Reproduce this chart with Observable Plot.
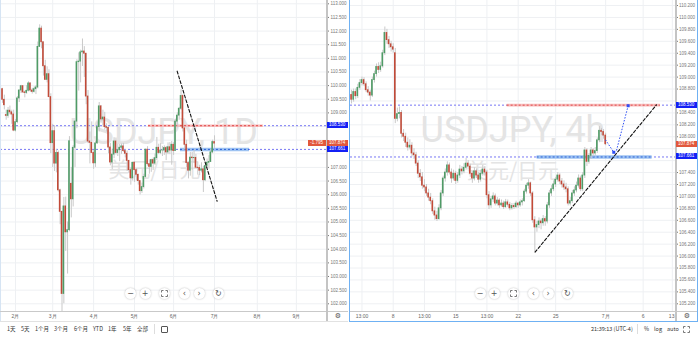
<!DOCTYPE html>
<html><head><meta charset="utf-8">
<script src="https://cdn.jsdelivr.net/npm/d3@7"></script>
<script src="https://cdn.jsdelivr.net/npm/@observablehq/plot@0.6"></script>
<style>
body{margin:0;background:#fff;}
#root{position:relative;width:698px;height:337px;overflow:hidden;background:#fff;font-family:"Liberation Sans",Arial,sans-serif;}
.abs{position:absolute;}
.btn{position:absolute;width:11px;height:11px;border-radius:50%;background:#fff;box-shadow:0 0 2px rgba(0,0,0,0.28);font-family:"DejaVu Sans",sans-serif;font-size:8px;line-height:11px;text-align:center;color:#555;}
.tb{position:absolute;top:325px;font-size:5.5px;line-height:8px;color:#333;white-space:nowrap;font-family:"Noto Sans CJK SC","Liberation Sans",sans-serif;}
.box{position:absolute;height:6px;line-height:6px;font-size:4.5px;color:#fff;text-align:center;font-family:"Liberation Sans",Arial,sans-serif;overflow:hidden;white-space:nowrap;}
</style></head><body><div id="root"></div><script>
// ---------- data ----------
// Daily USDJPY candles [open, high, low, close]; index 0 = first trading day of Feb (2月)
const dailyStart = -9;
const daily = [
[110.17,110.20,109.76,109.86],[109.86,110.00,109.71,109.87],[109.87,109.90,109.35,109.48],[109.48,109.65,109.11,109.28],
[108.92,109.10,108.73,108.89],[108.89,109.20,108.80,109.08],[109.08,109.25,108.93,109.02],[109.02,109.10,108.58,108.94],[108.94,109.10,108.31,108.35],
[108.35,108.76,108.30,108.66],[108.66,109.60,108.60,109.53],[109.53,109.85,109.38,109.82],[109.82,110.01,109.71,109.98],[109.98,110.00,109.72,109.75],
[109.75,109.80,109.55,109.73],[109.73,110.00,109.68,109.81],[109.81,110.14,109.77,110.08],[110.08,110.10,109.75,109.82],[109.82,109.90,109.69,109.77],
[109.77,109.95,109.73,109.87],[109.87,110.00,109.67,109.93],[109.93,111.60,109.88,111.42],[111.42,112.23,111.40,112.09],[112.09,112.18,111.35,111.59],
[111.59,111.60,110.35,110.71],[110.71,110.93,110.19,110.21],[110.21,110.69,110.10,110.42],[110.42,110.58,109.55,109.58],[109.58,109.70,107.51,107.89],
[107.89,108.58,107.00,108.33],[108.33,108.53,106.85,107.14],[107.14,107.66,106.80,107.53],[107.53,107.60,106.10,106.16],[106.16,106.20,104.90,105.37],
[105.37,105.40,101.18,102.36],[102.36,105.90,102.00,105.57],[105.57,105.91,103.92,104.62],[104.62,105.00,103.09,104.70],[104.70,108.13,104.64,107.96],
[106.40,107.00,105.15,105.83],[105.83,107.80,105.55,107.72],[107.72,108.70,107.00,108.68],[108.68,110.95,108.42,110.86],[110.86,111.20,109.80,110.88],
[110.88,111.30,110.10,111.22],[111.22,111.71,110.70,111.25],[111.25,111.43,110.30,111.17],[111.17,111.18,109.30,109.60],[109.60,109.82,107.87,107.95],
[107.95,108.30,107.13,107.90],[107.90,108.67,107.55,107.53],
[107.53,107.61,106.93,107.15],[107.15,107.96,107.00,107.88],[107.88,108.67,107.85,108.48],[108.48,109.38,108.30,109.24],[109.24,109.27,108.62,108.76],
[108.76,109.10,108.52,108.83],[108.83,109.02,108.37,108.48],[108.48,108.60,108.30,108.45],[108.45,108.50,107.50,107.73],[107.73,107.88,107.06,107.18],
[107.18,107.67,106.92,107.47],[107.47,108.09,107.32,107.95],[107.95,108.08,107.46,107.53],[107.53,107.85,107.40,107.63],[107.63,107.84,107.21,107.72],
[107.72,107.86,107.48,107.77],[107.77,107.88,107.55,107.60],[107.60,107.65,107.35,107.50],[107.50,107.60,106.85,107.24],[107.24,107.26,106.78,106.90],
[106.90,106.98,106.35,106.60],[106.60,107.18,106.50,107.17],
[107.17,107.21,106.45,106.90],[106.90,106.95,106.50,106.73],[106.73,106.75,106.35,106.50],[106.50,106.50,105.99,106.13],[106.13,106.43,106.05,106.28],
[106.28,106.75,106.21,106.65],[106.65,107.67,106.60,107.65],[107.65,107.76,107.05,107.12],[107.12,107.28,106.75,107.02],[107.02,107.30,106.82,107.27],
[107.27,107.34,106.89,107.14],[107.14,107.49,107.07,107.34],[107.34,108.10,107.25,107.72],[107.72,107.85,107.47,107.53],[107.53,107.87,107.47,107.62],
[107.62,107.77,107.40,107.62],[107.62,107.79,107.44,107.71],[107.71,107.77,107.25,107.55],[107.55,107.90,107.47,107.74],[107.74,107.91,107.47,107.62],
[107.62,107.95,107.08,107.83],
[107.83,107.91,107.44,107.60],[107.60,108.77,107.58,108.68],[108.68,109.00,108.45,108.90],[108.90,109.20,108.73,109.15],[109.15,109.85,109.10,109.62],
[109.62,109.67,108.30,108.43],[108.43,108.48,107.63,107.83],[107.83,108.00,106.99,107.16],[107.16,107.20,106.58,106.88],[106.88,107.55,106.68,107.36],
[107.36,107.55,106.90,107.34],[107.34,107.64,107.14,107.35],[107.35,107.48,106.97,106.99],[106.99,107.20,106.72,106.98],[106.98,107.08,106.70,106.88],
[106.88,107.17,106.80,106.93],[106.93,107.04,106.08,106.53],[106.53,107.08,106.48,107.05],[107.05,107.31,106.96,107.17],[107.17,107.43,106.94,107.20],
[107.20,107.66,107.18,107.55],[107.55,108.00,107.50,107.93],
[107.93,108.16,107.70,107.874]
];
const monthTicks = [0, 20, 42, 64, 85, 107, 130, 151];
const monthLabels = ["2月","3月","4月","5月","6月","7月","8月","9月"];
const leftTicks = [102,102.5,103,103.5,104,104.5,105,105.5,106,106.5,107,107.5,108,108.5,109,109.5,110,110.5,111,111.5,112,112.5,113];

// 4h USDJPY candles [open, high, low, close]; index 0 = bar at the "8" label
const h4Start = -20;
const h4 = [
[108.70,108.78,108.55,108.62],[108.62,108.80,108.58,108.75],[108.75,108.80,108.62,108.68],[108.68,108.88,108.64,108.82],[108.82,108.96,108.78,108.90],
[108.90,109.00,108.85,108.95],[108.95,108.99,108.84,108.88],[108.88,108.92,108.74,108.78],[108.78,108.84,108.68,108.74],[108.74,108.78,108.60,108.69],
[108.69,109.00,108.66,108.95],[108.95,109.10,108.90,109.05],[109.05,109.22,109.00,109.17],[109.17,109.24,109.06,109.12],[109.12,109.25,109.08,109.18],
[109.18,109.45,109.15,109.40],[109.40,109.84,109.36,109.74],[109.74,109.80,109.55,109.62],[109.62,109.68,109.48,109.55],[109.55,109.60,109.42,109.50],
[109.50,109.56,109.40,109.46],[109.40,109.48,108.22,108.30],[108.30,108.48,108.25,108.38],[108.38,108.50,108.30,108.40],[108.40,108.44,107.98,108.05],
[108.05,108.12,107.92,108.00],[108.00,108.06,107.82,107.90],[107.90,107.98,107.76,107.82],[107.82,107.95,107.78,107.85],[107.85,107.90,107.66,107.72],
[107.72,107.80,107.62,107.69],[107.69,107.74,107.50,107.55],[107.55,107.60,107.30,107.38],[107.38,107.45,107.25,107.32],[107.32,107.40,107.12,107.18],
[107.18,107.28,107.08,107.15],[107.15,107.20,107.00,107.05],[107.05,107.12,106.92,106.98],[106.98,107.05,106.86,106.92],[106.92,106.96,106.70,106.75],
[106.75,106.82,106.60,106.68],[106.68,106.75,106.58,106.62],[106.62,106.86,106.60,106.80],[106.80,107.10,106.76,107.05],[107.05,107.34,107.00,107.30],
[107.30,107.46,107.24,107.40],[107.40,107.58,107.34,107.52],[107.52,107.56,107.36,107.40],[107.40,107.46,107.22,107.30],[107.30,107.44,107.26,107.38],
[107.38,107.42,107.20,107.26],[107.26,107.40,107.22,107.35],[107.35,107.52,107.30,107.45],[107.45,107.50,107.36,107.42],[107.42,107.55,107.38,107.48],
[107.48,107.64,107.44,107.55],[107.55,107.60,107.44,107.50],[107.50,107.54,107.32,107.38],[107.38,107.42,107.22,107.30],[107.30,107.48,107.26,107.42],
[107.42,107.46,107.30,107.35],[107.35,107.40,107.22,107.28],[107.28,107.44,107.24,107.38],[107.38,107.52,107.34,107.45],[107.45,107.50,107.34,107.40],
[107.40,107.44,106.96,107.02],[107.02,107.08,106.78,106.85],[106.85,107.00,106.80,106.95],[106.95,107.06,106.90,107.00],[107.00,107.04,106.84,106.88],
[106.88,106.98,106.84,106.93],[106.93,106.96,106.80,106.85],[106.85,106.94,106.82,106.88],[106.88,106.92,106.78,106.82],[106.82,106.95,106.80,106.90],
[106.90,106.94,106.82,106.86],[106.86,106.90,106.76,106.80],[106.80,106.88,106.77,106.84],[106.84,106.88,106.78,106.82],[106.82,106.92,106.80,106.88],
[106.88,106.90,106.80,106.85],[106.85,106.94,106.82,106.90],[106.90,106.96,106.84,106.92],[106.92,107.12,106.90,107.08],[107.08,107.22,107.04,107.18],
[107.18,107.28,107.12,107.22],[107.22,107.24,107.00,107.05],[107.05,107.08,106.55,106.60],[106.60,106.66,106.06,106.48],[106.48,106.58,106.40,106.52],
[106.52,106.64,106.46,106.58],[106.58,106.62,106.44,106.55],[106.55,106.68,106.50,106.62],[106.62,106.66,106.50,106.58],[106.58,106.90,106.54,106.85],
[106.85,107.10,106.80,107.05],[107.05,107.18,107.00,107.12],[107.12,107.26,107.08,107.20],[107.20,107.32,107.15,107.28],[107.28,107.40,107.24,107.35],
[107.35,107.38,107.20,107.25],[107.25,107.30,107.14,107.20],[107.20,107.26,107.10,107.15],[107.15,107.22,107.06,107.12],[107.12,107.16,106.84,106.88],
[106.88,106.98,106.84,106.92],[106.92,107.10,106.88,107.05],[107.05,107.16,107.00,107.10],[107.10,107.24,107.06,107.18],[107.18,107.36,107.14,107.30],
[107.30,107.34,107.08,107.12],[107.12,107.40,107.08,107.35],[107.35,107.82,107.30,107.77],[107.77,107.80,107.50,107.58],[107.58,107.72,107.54,107.68],
[107.68,107.82,107.62,107.77],[107.77,107.80,107.66,107.72],[107.72,107.82,107.68,107.76],[107.76,107.98,107.72,107.94],[107.94,108.17,107.90,108.10],
[108.10,108.14,108.02,108.08],[108.08,108.12,107.96,108.02],[108.02,108.06,107.85,107.874]
];
const h4Ticks = [-15, 0, 15, 30, 45, 60, 78, 102, 120, 134];
const h4Labels = ["13:00","8","13:00","15","13:00","22","25","7月","6","13:"];
const rightTicks = [105.2,105.4,105.6,105.8,106,106.2,106.4,106.6,106.8,107,107.2,107.4,107.6,107.8,108,108.2,108.4,108.6,108.8,109,109.2,109.4,109.6,109.8,110,110.2];

// levels and drawings
const resistance = 108.530, support = 107.661, lastPrice = 107.874, dayChange = "-1.795";
const dPink = [71.5, 133.3], dBlue = [88.7, 125.8];
const dTrend = [[86.9, 110.53], [108.4, 105.76]];
const hPink = [54.7, 128.3], hBlue = [69.1, 124.3];
const hTrend = [[68.1, 106.065], [126.4, 108.535]];
const hArrows = [[101.9, 107.95, 105.9, 107.74], [107.2, 107.77, 112.8, 108.52]];

// ---------- drawing ----------
const GREEN = "#4f9b66", RED = "#c24a38", WICK = "#c9c9c9", GRID = "#eef0f3";
const root = document.getElementById("root");

function candles(data, start, half) {
  const rows = data.map((d, k) => ({i: start + k, o: d[0], h: d[1], l: d[2], c: d[3]}));
  return [
    Plot.ruleX(rows, {x: "i", y1: "l", y2: "h", stroke: WICK, strokeWidth: 1, clip: true}),
    Plot.rect(rows, {x1: d => d.i - half, x2: d => d.i + half, y1: d => Math.min(d.o, d.c), y2: d => Math.max(d.o, d.c),
      fill: d => d.c >= d.o ? GREEN : RED, insetTop: -0.4, insetBottom: -0.4, clip: true})
  ];
}
function levelMarks(pink, blue) {
  return [
    Plot.ruleY([resistance, support], {stroke: "#7777f4", strokeDasharray: "2,2", strokeWidth: 1}),
    Plot.ruleY([resistance], {x1: () => pink[0], x2: () => pink[1], stroke: "#f7bcbc", strokeWidth: 2.6}),
    Plot.ruleY([resistance], {x1: () => pink[0], x2: () => pink[1], stroke: "#e04a4a", strokeDasharray: "2,2", strokeWidth: 1}),
    Plot.ruleY([support], {x1: () => blue[0], x2: () => blue[1], stroke: "#9ec3f2", strokeWidth: 3.5}),
    Plot.ruleY([support], {x1: () => blue[0], x2: () => blue[1], stroke: "#2b5fd6", strokeDasharray: "2,2", strokeWidth: 1})
  ];
}
function watermark(l1, l2, dy1, dy2, dx2) {
  return [
    Plot.text([l1], {frameAnchor: "middle", dy: dy1, text: d => d, fontSize: 36, fontFamily: "Roboto", fill: "#e4e4e4"}),
    Plot.text([l2], {frameAnchor: "middle", dy: dy2, dx: dx2, text: d => d, fontSize: 21, fontFamily: "Noto Sans CJK SC", fill: "#e4e4e4"})
  ];
}
// axis tick labels that sit under a price-label box are hidden, as in the chart
function visibleTicks(ticks, pxPerUnit) {
  return ticks.filter(t => [resistance, support, lastPrice].every(v => Math.abs(t - v) * pxPerUnit > 4.5));
}

const left = Plot.plot({
  width: 348, height: 322, marginLeft: 0, marginRight: 22, marginTop: 0, marginBottom: 11,
  x: {type: "linear", domain: [-8.065, 167.204]},
  y: {domain: [101.717, 113.121]},
  color: {type: "identity"},
  style: {background: "transparent", fontFamily: "Liberation Sans, Arial, sans-serif"},
  marks: [
    Plot.gridY(leftTicks, {stroke: GRID, strokeOpacity: 1}),
    Plot.gridX(monthTicks, {stroke: GRID, strokeOpacity: 1}),
    ...watermark("USDJPY, 1D", "美元/日元", -23.5, 14.5, -9),
    ...levelMarks(dPink, dBlue),
    ...candles(daily, dailyStart, 0.42),
    Plot.line(dTrend, {x: d => d[0], y: d => d[1], stroke: "#111", strokeDasharray: "3,2", strokeWidth: 1.1}),
    Plot.axisY(visibleTicks(leftTicks, 27.27), {anchor: "right", tickSize: 2, tickPadding: 2, fontSize: 4.5, tickFormat: d => d.toFixed(3), color: "#777", label: null}),
    Plot.axisX(monthTicks, {anchor: "bottom", tickSize: 0, tickPadding: 3, fontSize: 5, tickFormat: d => monthLabels[monthTicks.indexOf(d)], color: "#666", label: null})
  ]
});
left.style.position = "absolute"; left.style.left = "0px"; left.style.top = "0px";
root.appendChild(left);

const right = Plot.plot({
  width: 347, height: 322, marginLeft: 0, marginRight: 22, marginTop: 0, marginBottom: 11,
  x: {type: "linear", domain: [-20.50, 135.53]},
  y: {domain: [105.071, 110.284]},
  color: {type: "identity"},
  style: {background: "transparent", fontFamily: "Liberation Sans, Arial, sans-serif"},
  marks: [
    Plot.gridY(rightTicks, {stroke: GRID, strokeOpacity: 1}),
    Plot.gridX(h4Ticks, {stroke: GRID, strokeOpacity: 1}),
    ...watermark("USDJPY, 4h", "美元/日元", -25.5, 15.5, 0),
    ...levelMarks(hPink, hBlue),
    ...candles(h4, h4Start, 0.38),
    Plot.line(hTrend, {x: d => d[0], y: d => d[1], stroke: "#111", strokeDasharray: "3,2", strokeWidth: 1.1}),
    Plot.link(hArrows, {x1: d => d[0], y1: d => d[1], x2: d => d[2], y2: d => d[3], stroke: "#2f4ff5", strokeDasharray: "1.5,1.5", strokeWidth: 1}),
    Plot.dot(hArrows, {x: d => d[2], y: d => d[3], symbol: "square", r: 1.7, fill: "#2f4ff5"}),
    Plot.axisY(visibleTicks(rightTicks, 59.66), {anchor: "right", tickSize: 2, tickPadding: 1.5, fontSize: 4.5, tickFormat: d => d.toFixed(3), color: "#777", label: null}),
    Plot.axisX(h4Ticks, {anchor: "bottom", tickSize: 0, tickPadding: 3, fontSize: 5, tickFormat: d => h4Labels[h4Ticks.indexOf(d)], color: "#666", label: null})
  ]
});
right.style.position = "absolute"; right.style.left = "350px"; right.style.top = "0px";
root.appendChild(right);

// ---------- chrome ----------
function div(css, html, cls) {
  const e = document.createElement("div");
  e.className = cls || "abs"; e.style.cssText += css; if (html !== undefined) e.innerHTML = html;
  root.appendChild(e); return e;
}
// left pane frame
div("left:0;top:0;width:1px;height:321px;background:#d6e4f3;");
div("left:0;top:311px;width:348px;height:1px;background:#c9c9c9;");
div("left:326px;top:0;width:1.5px;height:321px;background:#c4c4c4;");
div("left:0;top:321px;width:348px;height:1px;background:#e2e2e2;");
// right pane frame
div("left:675px;top:0;width:1.5px;height:321px;background:#c4c4c4;");
div("left:350px;top:311px;width:347px;height:1px;background:#c9c9c9;");
div("left:349px;top:-2px;width:347px;height:322px;border:1.2px solid #6fb1f3;");
// gears
div("left:333px;top:312px;width:10px;text-align:center;font:7px 'DejaVu Sans';line-height:9px;color:#555;", "⚙");
div("left:682px;top:312px;width:10px;text-align:center;font:7px 'DejaVu Sans';line-height:9px;color:#555;", "⚙");

// price labels
function priceBoxes(plot, offX, axisX, withChange) {
  const y = plot.scale("y");
  const mk = (v, bg, text, x, w) => div(`left:${x}px;top:${y.apply(v) - 3}px;width:${w}px;background:${bg};`, text, "box");
  mk(resistance, "#1320f5", resistance.toFixed(3), offX + axisX, 21.5);
  mk(lastPrice, "#e2573c", lastPrice.toFixed(3), offX + axisX, 21.5);
  if (withChange) mk(lastPrice, "#e2573c", dayChange, offX + axisX - 18.5, 17.5);
  mk(support, "#1320f5", support.toFixed(3), offX + axisX, 21.5);
}
priceBoxes(left, 0, 326.5, true);
priceBoxes(right, 350, 325.5, false);

// navigation buttons
const fsIcon = '<svg width="7" height="7" viewBox="0 0 7 7" style="display:block;margin:2px auto 0"><path d="M0.5 2.5V0.5H2.5M4.5 0.5H6.5V2.5M6.5 4.5V6.5H4.5M2.5 6.5H0.5V4.5" fill="none" stroke="#555" stroke-width="0.8"/></svg>';
const navGlyphs = ["−", "+", fsIcon, "‹", "›", "↻"];
function nav(xs) {
  xs.forEach((x, k) => {
    const b = document.createElement("div");
    b.className = "btn"; b.style.left = (x - 5.5) + "px"; b.style.top = (293.3 - 5.5) + "px";
    b.innerHTML = navGlyphs[k]; root.appendChild(b);
  });
}
nav([130.7, 145, 164.3, 184.3, 199, 218.3]);
nav([480, 494, 513.3, 533.3, 548, 567.3]);

// bottom toolbar
const ranges = ["1天", "5天", "1个月", "3个月", "6个月", "YTD", "1年", "5年", "全部"];
const rangeX = [7, 21, 35, 54, 74, 93, 108, 123, 137];
ranges.forEach((t, k) => div(`left:${rangeX[k]}px;`, t, "tb"));
div("left:154px;top:324px;width:0.8px;height:10px;background:#ddd;");
div("left:161px;top:326px;width:5px;height:4.5px;border:0.8px solid #555;border-radius:1px;");
const tbRight = [["21:39:13 (UTC-4)", 591], ["%", 644], ["log", 654], ["auto", 667]];
tbRight.forEach(([t, x]) => div(`left:${x}px;`, t, "tb"));
div("left:636.5px;top:324px;width:0.8px;height:10px;background:#ddd;");
div("left:683px;top:326px;width:7px;height:7px;", fsIcon.replace('margin:2px auto 0', 'margin:0'));
</script></body></html>
